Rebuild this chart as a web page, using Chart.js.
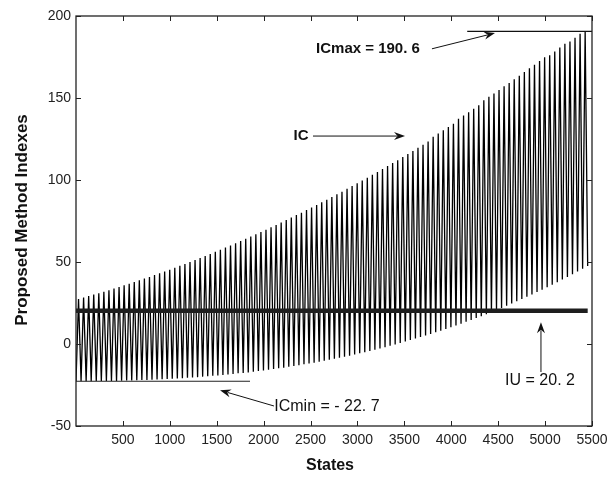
<!DOCTYPE html>
<html>
<head>
<meta charset="utf-8">
<script src="https://cdn.jsdelivr.net/npm/chart.js@4/dist/chart.umd.min.js"></script>
<style>
  html, body { margin: 0; padding: 0; background: #fff; }
  #wrap { width: 616px; height: 479px; position: relative; }
</style>
</head>
<body>
<div id="wrap"><canvas id="c" width="616" height="479"></canvas></div>
<script>
// ---- Data ----
const troughStates = [0,54,108,162,216,270,324,378,432,486,540,594,648,702,756,810,864,918,972,1026,1080,1134,1188,1242,1296,1350,1404,1458,1512,1566,1620,1674,1728,1782,1836,1890,1944,1998,2052,2106,2160,2214,2268,2322,2376,2430,2484,2538,2592,2646,2700,2754,2808,2862,2916,2970,3024,3078,3132,3186,3240,3294,3348,3402,3456,3510,3564,3618,3672,3726,3780,3834,3888,3942,3996,4050,4104,4158,4212,4266,4320,4374,4428,4482,4536,4590,4644,4698,4752,4806,4860,4914,4968,5022,5076,5130,5184,5238,5292,5346,5400,5454];
const troughValues = [-22.7,-22.7,-22.7,-22.7,-22.6,-22.6,-22.6,-22.5,-22.5,-22.4,
  -22.3,-22.2,-22.1,-22.0,-21.9,-21.8,-21.6,-21.5,-21.3,-21.2,
  -21.0,-20.8,-20.6,-20.4,-20.2,-19.9,-19.7,-19.4,-19.2,-18.9,
  -18.6,-18.3,-17.9,-17.6,-17.3,-16.9,-16.5,-16.1,-15.7,-15.3,
  -14.8,-14.4,-13.9,-13.4,-12.9,-12.4,-11.9,-11.4,-10.8,-10.2,
  -9.6,-9.0,-8.4,-7.7,-7.1,-6.4,-5.7,-5.0,-4.2,-3.5,
  -2.7,-1.9,-1.1,-0.3,0.6,1.5,2.4,3.3,4.2,5.2,
  6.1,7.1,8.1,9.2,10.2,11.3,12.4,13.5,14.7,15.8,
  17.0,18.2,19.5,20.7,22.0,23.3,24.7,26.0,27.4,28.8,
  30.2,31.7,33.1,34.6,36.2,37.7,39.3,40.9,42.5,44.2,
  45.9,47.6];
const peakStates = [27,81,135,189,243,297,351,405,459,513,567,621,675,729,783,837,891,945,999,1053,1107,1161,1215,1269,1323,1377,1431,1485,1539,1593,1647,1701,1755,1809,1863,1917,1971,2025,2079,2133,2187,2241,2295,2349,2403,2457,2511,2565,2619,2673,2727,2781,2835,2889,2943,2997,3051,3105,3159,3213,3267,3321,3375,3429,3483,3537,3591,3645,3699,3753,3807,3861,3915,3969,4023,4077,4131,4185,4239,4293,4347,4401,4455,4509,4563,4617,4671,4725,4779,4833,4887,4941,4995,5049,5103,5157,5211,5265,5319,5373,5427];
const peakValues = [27.4,28.3,29.2,30.1,31.0,31.9,32.8,33.8,34.8,35.8,
  36.8,37.8,38.8,39.9,40.9,42.0,43.1,44.2,45.3,46.5,
  47.7,48.8,50.0,51.2,52.4,53.7,54.9,56.2,57.5,58.8,
  60.1,61.4,62.8,64.1,65.5,66.9,68.3,69.7,71.2,72.6,
  74.1,75.6,77.1,78.6,80.1,81.7,83.2,84.8,86.4,88.0,
  89.6,91.3,92.9,94.6,96.3,98.0,99.7,101.4,103.2,104.9,
  106.7,108.5,110.3,112.1,114.0,115.8,117.7,119.6,121.5,123.4,
  126.4,128.3,130.3,132.3,134.3,137.3,139.3,141.3,143.4,145.5,
  148.6,150.7,152.8,154.9,157.1,159.2,161.4,163.6,165.8,168.1,
  170.3,172.6,174.8,176.1,178.4,180.8,183.1,184.4,186.8,189.2,
  190.6];
const IU = 20.2;
const ICmax = 190.6;
const ICmin = -22.7;
const iuStates = [0, 5454];
const icMinStates = [0, 1855];
const icMaxStates = [4170, 5500];
const xTicks = [500,1000,1500,2000,2500,3000,3500,4000,4500,5000,5500];
const yTicks = [-50,0,50,100,150,200];

// ---- Build the IC series from the arrays ----
const icData = [];
for (let i = 0; i < peakStates.length; i++) {
  icData.push({x: troughStates[i], y: troughValues[i]});
  icData.push({x: peakStates[i], y: peakValues[i]});
}
for (let i = peakStates.length; i < troughStates.length; i++) {
  icData.push({x: troughStates[i], y: troughValues[i]});
}

const FONT = '"Liberation Sans", Arial, Helvetica, sans-serif';
const INK = '#111';

function arrow(ctx, x1, y1, x2, y2) {
  const ang = Math.atan2(y2 - y1, x2 - x1);
  const L = 11, W = 4;
  const bx = x2 - L * Math.cos(ang), by = y2 - L * Math.sin(ang);
  ctx.beginPath();
  ctx.moveTo(x1, y1);
  ctx.lineTo(bx + 3 * Math.cos(ang), by + 3 * Math.sin(ang));
  ctx.stroke();
  ctx.beginPath();
  ctx.moveTo(x2, y2);
  ctx.lineTo(bx + W * Math.sin(ang), by - W * Math.cos(ang));
  ctx.lineTo(bx + 3.5 * Math.cos(ang), by + 3.5 * Math.sin(ang));
  ctx.lineTo(bx - W * Math.sin(ang), by + W * Math.cos(ang));
  ctx.closePath();
  ctx.fill();
}

const decor = {
  id: 'decor',
  afterDraw(chart) {
    const {ctx, chartArea: a, scales: {x, y}} = chart;
    ctx.save();
    // box
    ctx.strokeStyle = '#222';
    ctx.lineWidth = 1.3;
    ctx.strokeRect(a.left, a.top, a.right - a.left, a.bottom - a.top);
    // inward ticks
    ctx.lineWidth = 1;
    const tl = 5;
    ctx.beginPath();
    xTicks.forEach(v => {
      const px = Math.round(x.getPixelForValue(v)) + 0.5;
      ctx.moveTo(px, a.bottom); ctx.lineTo(px, a.bottom - tl);
      ctx.moveTo(px, a.top); ctx.lineTo(px, a.top + tl);
    });
    yTicks.forEach(v => {
      const py = Math.round(y.getPixelForValue(v)) + 0.5;
      ctx.moveTo(a.left, py); ctx.lineTo(a.left + tl, py);
      ctx.moveTo(a.right, py); ctx.lineTo(a.right - tl, py);
    });
    ctx.stroke();

    // axis titles
    ctx.fillStyle = INK;
    ctx.font = 'bold 16px ' + FONT;
    ctx.textAlign = 'center';
    ctx.textBaseline = 'middle';
    ctx.fillText('States', (a.left + a.right) / 2 - 4, 466);
    ctx.save();
    ctx.translate(22, 220);
    ctx.rotate(-Math.PI / 2);
    ctx.font = 'bold 17px ' + FONT;
    ctx.fillText('Proposed Method Indexes', 0, 0);
    ctx.restore();

    // annotations (anchored in data coordinates)
    const P = (sx, sy) => [x.getPixelForValue(sx), y.getPixelForValue(sy)];
    ctx.strokeStyle = INK;
    ctx.fillStyle = INK;
    ctx.lineWidth = 1;

    let p = P(3112, 180);
    ctx.font = 'bold 15px ' + FONT;
    ctx.fillText('ICmax = 190. 6', p[0], p[1]);
    let t = P(3794, 180), h = P(4466, 189.6);
    arrow(ctx, t[0], t[1], h[0], h[1]);

    p = P(2398, 126.8);
    ctx.fillText('IC', p[0], p[1]);
    t = P(2526, 126.8); h = P(3507, 126.8);
    arrow(ctx, t[0], t[1], h[0], h[1]);

    ctx.font = '16px ' + FONT;
    p = P(4946, -22.6);
    ctx.fillText('IU = 20. 2', p[0], p[1]);
    t = P(4956, -17.1); h = P(4956, 13.2);
    arrow(ctx, t[0], t[1], h[0], h[1]);

    p = P(2675, -38.4);
    ctx.fillText('ICmin = - 22. 7', p[0], p[1]);
    t = P(2110, -37.8); h = P(1535, -28.2);
    arrow(ctx, t[0], t[1], h[0], h[1]);

    ctx.restore();
  }
};

new Chart(document.getElementById('c'), {
  type: 'scatter',
  data: {
    datasets: [
      {
        label: 'IC',
        data: icData,
        showLine: true,
        borderColor: '#000',
        borderWidth: 1.3,
        pointRadius: 0,
        tension: 0,
        order: 3
      },
      {
        label: 'IU',
        data: iuStates.map(s => ({x: s, y: IU})),
        showLine: true,
        borderColor: '#1e1e1e',
        borderWidth: 4.5,
        pointRadius: 0,
        order: 1
      },
      {
        label: 'ICmin',
        data: icMinStates.map(s => ({x: s, y: ICmin})),
        showLine: true,
        borderColor: '#222',
        borderWidth: 1.2,
        pointRadius: 0,
        order: 2
      },
      {
        label: 'ICmax',
        data: icMaxStates.map(s => ({x: s, y: ICmax})),
        showLine: true,
        borderColor: '#111',
        borderWidth: 1.2,
        pointRadius: 0,
        order: 2
      }
    ]
  },
  options: {
    responsive: false,
    animation: false,
    events: [],
    layout: { padding: { left: 0, top: 16, right: 24, bottom: 0 } },
    plugins: { legend: { display: false }, tooltip: { enabled: false } },
    scales: {
      x: {
        type: 'linear',
        min: 0, max: 5500,
        grid: { display: false, drawTicks: false },
        border: { display: false },
        afterBuildTicks: s => { s.ticks = xTicks.map(v => ({value: v})); },
        ticks: { font: { family: FONT, size: 14 }, color: '#222', padding: 6, maxRotation: 0, autoSkip: false,
                 callback: v => String(v) },
        afterFit: s => { s.height = 53; }
      },
      y: {
        type: 'linear',
        min: -50, max: 200,
        grid: { display: false, drawTicks: false },
        border: { display: false },
        afterBuildTicks: s => { s.ticks = yTicks.map(v => ({value: v})); },
        ticks: { font: { family: FONT, size: 14 }, color: '#222', padding: 5, callback: v => String(v) },
        afterFit: s => { s.width = 76; }
      }
    }
  },
  plugins: [decor]
});
</script>
</body>
</html>
